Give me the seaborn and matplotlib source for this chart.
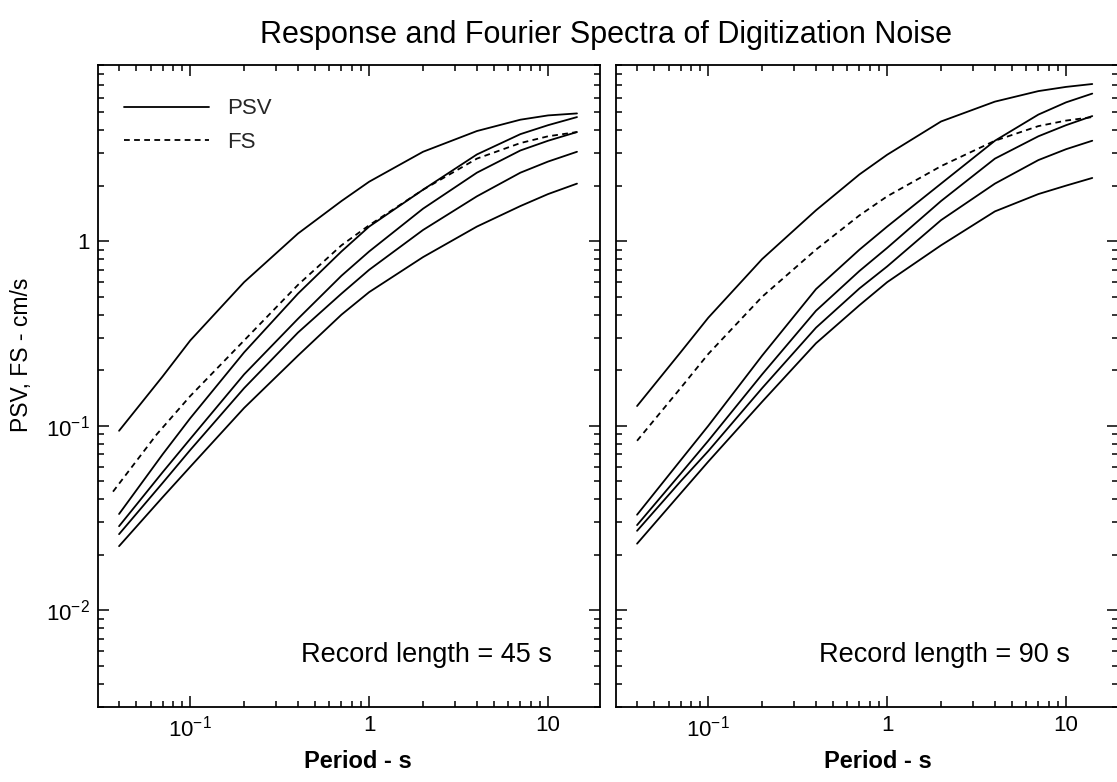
import matplotlib
matplotlib.use("Agg")
import matplotlib.pyplot as plt
import matplotlib.ticker as mticker
from matplotlib.lines import Line2D
import seaborn as sns
import pandas as pd

# ---------------- data ----------------
period_45 = [0.04, 0.07, 0.1, 0.2, 0.4, 0.7, 1, 2, 4, 7, 10, 14.5]
psv_45_a = [0.094, 0.185, 0.29, 0.60, 1.1, 1.65, 2.1, 3.05, 3.95, 4.55, 4.8, 4.92]
psv_45_b = [0.0333, 0.07, 0.11, 0.25, 0.52, 0.88, 1.2, 1.9, 2.95, 3.8, 4.25, 4.7]
psv_45_c = [0.0286, 0.056, 0.085, 0.19, 0.38, 0.65, 0.88, 1.5, 2.35, 3.1, 3.5, 3.9]
psv_45_d = [0.0259, 0.049, 0.074, 0.16, 0.32, 0.52, 0.7, 1.15, 1.75, 2.35, 2.7, 3.05]
psv_45_e = [0.0223, 0.041, 0.06, 0.125, 0.24, 0.4, 0.53, 0.82, 1.2, 1.55, 1.8, 2.05]
fs_period_45 = [0.037, 0.065, 0.1, 0.2, 0.4, 0.7, 1, 2, 4, 7, 10, 14.5]
fs_45 = [0.044, 0.09, 0.145, 0.29, 0.58, 0.95, 1.22, 1.9, 2.8, 3.4, 3.7, 3.9]

period_90 = [0.04, 0.07, 0.1, 0.2, 0.4, 0.7, 1, 2, 4, 7, 10, 14]
psv_90_a = [0.128, 0.25, 0.385, 0.8, 1.47, 2.3, 2.94, 4.45, 5.7, 6.5, 6.85, 7.1]
psv_90_b = [0.033, 0.065, 0.1, 0.24, 0.55, 0.9, 1.2, 2.05, 3.5, 4.85, 5.65, 6.3]
psv_90_c = [0.029, 0.055, 0.083, 0.19, 0.42, 0.69, 0.92, 1.65, 2.8, 3.7, 4.25, 4.76]
psv_90_d = [0.027, 0.05, 0.073, 0.16, 0.34, 0.555, 0.73, 1.3, 2.05, 2.75, 3.15, 3.5]
psv_90_e = [0.023, 0.043, 0.064, 0.135, 0.28, 0.45, 0.6, 0.95, 1.45, 1.8, 2.0, 2.2]
fs_period_90 = [0.04, 0.07, 0.1, 0.2, 0.4, 0.7, 1, 2, 4, 7, 10, 14]
fs_90 = [0.083, 0.16, 0.245, 0.5, 0.9, 1.38, 1.75, 2.55, 3.5, 4.2, 4.5, 4.7]

x_ticks = [0.1, 1, 10]
x_ticklabels = [r"$\mathregular{10^{-1}}$", "1", "10"]
y_ticks = [0.01, 0.1, 1]
y_ticklabels = [r"$\mathregular{10^{-2}}$", r"$\mathregular{10^{-1}}$", "1"]
panel_texts = ["Record length = 45 s", "Record length = 90 s"]
title = "Response and Fourier Spectra of Digitization Noise"
xlabel = "Period - s"
ylabel = "PSV, FS - cm/s"
legend_labels = ["PSV", "FS"]

# ---------------- style ----------------
sns.set_theme(style="ticks")
plt.rcParams["font.family"] = ["Liberation Sans", "DejaVu Sans"]
plt.rcParams["mathtext.fontset"] = "custom"
plt.rcParams["mathtext.rm"] = "Liberation Sans"

W, H = 1117, 782
fig = plt.figure(figsize=(W / 100, H / 100), dpi=100)
ax1 = fig.add_axes([98 / W, 1 - 707 / H, 502 / W, 642 / H])
ax2 = fig.add_axes([616 / W, 1 - 707 / H, 502 / W, 642 / H])

LW = 1.3
DASH = (3.2, 2.4)


def build(period, curves, fs_period, fs):
    rows = []
    for name, vals in curves.items():
        for p, v in zip(period, vals):
            rows.append({"period": p, "value": v, "curve": name, "kind": "PSV"})
    for p, v in zip(fs_period, fs):
        rows.append({"period": p, "value": v, "curve": "fs", "kind": "FS"})
    return pd.DataFrame(rows)


df45 = build(period_45, {"a": psv_45_a, "b": psv_45_b, "c": psv_45_c,
                         "d": psv_45_d, "e": psv_45_e}, fs_period_45, fs_45)
df90 = build(period_90, {"a": psv_90_a, "b": psv_90_b, "c": psv_90_c,
                         "d": psv_90_d, "e": psv_90_e}, fs_period_90, fs_90)

for ax, df, txt in [(ax1, df45, panel_texts[0]), (ax2, df90, panel_texts[1])]:
    for name, sub in df.groupby("curve", sort=False):
        dashed = sub["kind"].iloc[0] == "FS"
        sns.lineplot(data=sub, x="period", y="value", ax=ax, color="black",
                     lw=LW, estimator=None, sort=False, legend=False,
                     dashes=False,
                     **({"linestyle": (0, DASH)} if dashed else {}))
    ax.set_xscale("log")
    ax.set_yscale("log")
    ax.set_xlim(0.0305, 19.5)
    ax.set_ylim(0.003, 9)
    ax.set_xlabel("")
    ax.set_ylabel("")
    ax.xaxis.set_major_locator(mticker.FixedLocator(x_ticks))
    ax.xaxis.set_major_formatter(mticker.FixedFormatter(x_ticklabels))
    ax.xaxis.set_minor_locator(mticker.LogLocator(base=10, subs=range(2, 10), numticks=20))
    ax.xaxis.set_minor_formatter(mticker.NullFormatter())
    ax.yaxis.set_major_locator(mticker.FixedLocator(y_ticks))
    ax.yaxis.set_minor_locator(mticker.LogLocator(base=10, subs=range(2, 10), numticks=20))
    ax.yaxis.set_minor_formatter(mticker.NullFormatter())
    ax.tick_params(which="both", direction="in", top=True, right=True,
                   color="black", width=1.1)
    ax.tick_params(which="major", length=8)
    ax.tick_params(which="minor", length=4.5)
    ax.tick_params(axis="both", which="major", labelsize=16, pad=6, labelcolor="black")
    for s in ax.spines.values():
        s.set_color("black")
        s.set_linewidth(1.3)
    ax.text(0.904, 0.081, txt, transform=ax.transAxes, ha="right", va="center",
            fontsize=19.5, color="black")

ax1.yaxis.set_major_formatter(mticker.FixedFormatter(y_ticklabels))
ax2.yaxis.set_major_formatter(mticker.NullFormatter())

handles = [Line2D([], [], color="black", lw=LW),
           Line2D([], [], color="black", lw=LW, linestyle=(0, DASH))]
ax1.legend(handles, legend_labels, loc="upper left", frameon=False,
           fontsize=16, handlelength=3.8, handletextpad=0.8, labelspacing=0.55,
           bbox_to_anchor=(0.035, 0.962), borderaxespad=0.0)

fig.text(606 / W, 1 - 35 / H, title, ha="center", va="center", fontsize=22, color="black")
fig.text(358 / W, 1 - 762 / H, xlabel, ha="center", va="center", fontsize=17,
         fontweight="bold", color="black")
fig.text(878 / W, 1 - 762 / H, xlabel, ha="center", va="center", fontsize=17,
         fontweight="bold", color="black")
fig.text(22 / W, 1 - 355 / H, ylabel, ha="center", va="center", rotation=90,
         fontsize=16.5, color="black")

fig.savefig("out.png", dpi=100, facecolor="white")
